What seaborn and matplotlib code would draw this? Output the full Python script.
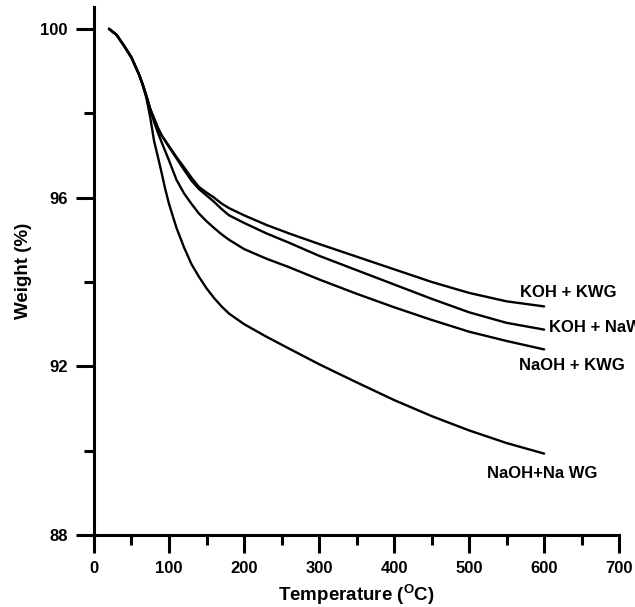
import numpy as np
import pandas as pd
import matplotlib
matplotlib.use('Agg')
import matplotlib.pyplot as plt
import seaborn as sns

# temperature grid (deg C)
temp = [20, 30, 40, 50, 60, 65, 70, 75, 80, 85, 90, 95, 100, 110, 120, 130, 140,
        150, 160, 170, 180, 200, 230, 260, 300, 350, 400, 450, 500, 550, 600]

koh_kwg = [100.0, 99.86, 99.6, 99.32, 98.92, 98.68, 98.4, 98.1, 97.88, 97.66, 97.48,
           97.35, 97.22, 96.96, 96.72, 96.47, 96.25, 96.12, 96.0, 95.86, 95.75, 95.58,
           95.35, 95.15, 94.9, 94.6, 94.3, 94.0, 93.74, 93.54, 93.42]
koh_nawg = [100.0, 99.86, 99.6, 99.32, 98.92, 98.68, 98.4, 98.1, 97.88, 97.66, 97.48,
            97.34, 97.2, 96.93, 96.66, 96.4, 96.2, 96.05, 95.9, 95.73, 95.58, 95.4,
            95.15, 94.93, 94.62, 94.28, 93.94, 93.6, 93.28, 93.03, 92.87]
naoh_kwg = [100.0, 99.86, 99.6, 99.32, 98.92, 98.68, 98.4, 98.08, 97.8, 97.55, 97.32,
            97.1, 96.88, 96.42, 96.1, 95.85, 95.62, 95.44, 95.28, 95.13, 95.0, 94.78,
            94.55, 94.35, 94.06, 93.72, 93.4, 93.1, 92.82, 92.6, 92.4]
naoh_nawg = [100.0, 99.86, 99.6, 99.32, 98.92, 98.66, 98.35, 97.9, 97.35, 96.98, 96.6,
             96.2, 95.85, 95.28, 94.82, 94.42, 94.12, 93.85, 93.62, 93.42, 93.25, 93.0,
             92.7, 92.42, 92.05, 91.62, 91.2, 90.82, 90.48, 90.18, 89.93]

series_names = ['KOH + KWG', 'KOH + NaWG', 'NaOH + KWG', 'NaOH+Na WG']
series_values = [koh_kwg, koh_nawg, naoh_kwg, naoh_nawg]
# label anchor points (left edge, vertical centre) in data units
label_x = [568, 607, 567, 524]
label_y = [93.75, 92.92, 92.02, 89.45]

sns.set_style('ticks')
plt.rcParams['font.family'] = ['Liberation Sans', 'DejaVu Sans']
plt.rcParams['font.weight'] = 'bold'
plt.rcParams['mathtext.fontset'] = 'custom'
plt.rcParams['mathtext.rm'] = 'Liberation Sans:bold'
plt.rcParams['mathtext.bf'] = 'Liberation Sans:bold'
plt.rcParams['mathtext.default'] = 'bf'
for key in ['text.color', 'axes.edgecolor', 'axes.labelcolor', 'xtick.color', 'ytick.color']:
    plt.rcParams[key] = 'black'

fig = plt.figure(figsize=(6.35, 6.07), dpi=100)
ax = fig.add_axes([0.148, 0.1186, 0.827, 0.870])

for name, vals in zip(series_names, series_values):
    df = pd.DataFrame({'Temperature': temp, 'Weight': vals})
    sns.lineplot(data=df, x='Temperature', y='Weight', ax=ax, color='black',
                 linewidth=1.7, legend=False)

for name, lx, ly in zip(series_names, label_x, label_y):
    ax.text(lx, ly, name, fontsize=12, fontweight='bold', ha='left', va='center',
            color='black', clip_on=False)

ax.set_xlim(0, 700)
ax.set_ylim(88, 100.52)
ax.set_xticks(np.arange(0, 701, 100))
ax.set_xticks(np.arange(50, 700, 100), minor=True)
ax.set_yticks([88, 92, 96, 100])
ax.set_yticks([90, 94, 98], minor=True)

sns.despine(ax=ax)
for side in ['left', 'bottom']:
    ax.spines[side].set_linewidth(2.2)
    ax.spines[side].set_color('black')
ax.tick_params(which='major', length=13, width=2.2, labelsize=12, pad=6, colors='black')
ax.tick_params(which='minor', length=7, width=2.2, colors='black')
for lab in ax.get_xticklabels() + ax.get_yticklabels():
    lab.set_fontweight('bold')

ax.set_xlabel(r'Temperature ($^{O}$C)', fontsize=13.5, fontweight='bold', labelpad=5)
ax.set_ylabel('Weight (%)', fontsize=13.5, fontweight='bold', labelpad=6)

fig.savefig('out.png', dpi=100)
